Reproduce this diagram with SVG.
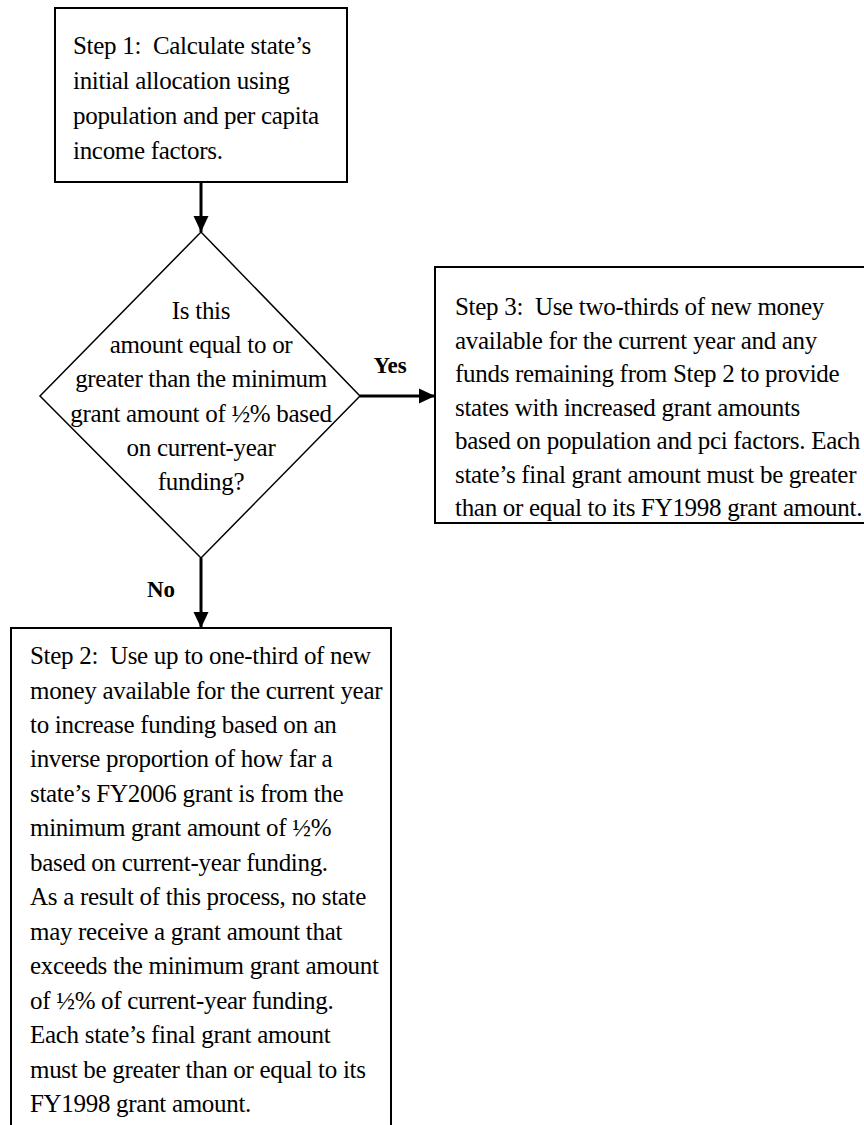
<svg xmlns="http://www.w3.org/2000/svg" width="864" height="1125" viewBox="0 0 864 1125">
<style>
.box{fill:#fff;stroke:#000;stroke-width:2}
.dia{fill:#fff;stroke:#000;stroke-width:1.5}
.t{font-family:"Liberation Serif","Times New Roman",serif;font-size:25px;letter-spacing:-0.3px;fill:#000;white-space:pre}
.c{text-anchor:middle}
.lbl{font-family:"Liberation Serif","Times New Roman",serif;font-size:23px;font-weight:bold;fill:#000}
.conn{stroke:#000;stroke-width:3;fill:none}
</style>
<defs>
<marker id="ah" markerWidth="16" markerHeight="16" viewBox="0 0 16 16" refX="16" refY="8" orient="auto" markerUnits="userSpaceOnUse">
<path d="M0,0.5 L16,8 L0,15.5 Z" fill="#000"/>
</marker>
</defs>
<rect width="864" height="1125" fill="#fff"/>
<g id="connectors">
<line class="conn" x1="201" y1="182" x2="201" y2="232" marker-end="url(#ah)"/>
<line class="conn" x1="360" y1="396" x2="435" y2="396" marker-end="url(#ah)"/>
<line class="conn" x1="201" y1="558" x2="201" y2="628" marker-end="url(#ah)"/>
<text class="lbl" x="390" y="373" text-anchor="middle">Yes</text>
<text class="lbl" x="161" y="597" text-anchor="middle">No</text>
</g>
<g id="step1">
<rect class="box" x="55" y="8" width="292" height="174"/>
<text class="t" x="73" y="54">Step 1:  Calculate state’s</text>
<text class="t" x="73" y="89">initial allocation using</text>
<text class="t" x="73" y="124">population and per capita</text>
<text class="t" x="73" y="159">income factors.</text>
</g>
<g id="decision">
<polygon class="dia" points="201,232 360,396 201,558 40,396"/>
<text class="t c" x="201" y="319">Is this</text>
<text class="t c" x="201" y="353">amount equal to or</text>
<text class="t c" x="201" y="387">greater than the minimum</text>
<text class="t c" x="201" y="422">grant amount of ½% based</text>
<text class="t c" x="201" y="456">on current-year</text>
<text class="t c" x="201" y="490">funding?</text>
</g>
<g id="step3">
<rect class="box" x="435" y="267" width="440" height="256"/>
<text class="t" x="455" y="315">Step 3:  Use two-thirds of new money</text>
<text class="t" x="455" y="348.5">available for the current year and any</text>
<text class="t" x="455" y="382">funds remaining from Step 2 to provide</text>
<text class="t" x="455" y="415.5">states with increased grant amounts</text>
<text class="t" x="455" y="449">based on population and pci factors. Each</text>
<text class="t" x="455" y="482.5">state’s final grant amount must be greater</text>
<text class="t" x="455" y="516">than or equal to its FY1998 grant amount.</text>
</g>
<g id="step2">
<rect class="box" x="11" y="628" width="380" height="520"/>
<text class="t" x="30" y="664">Step 2:  Use up to one-third of new</text>
<text class="t" x="30" y="698.5">money available for the current year</text>
<text class="t" x="30" y="733">to increase funding based on an</text>
<text class="t" x="30" y="767.4">inverse proportion of how far a</text>
<text class="t" x="30" y="801.8">state’s FY2006 grant is from the</text>
<text class="t" x="30" y="836.3">minimum grant amount of ½%</text>
<text class="t" x="30" y="870.8">based on current-year funding.</text>
<text class="t" x="30" y="905.2">As a result of this process, no state</text>
<text class="t" x="30" y="939.7">may receive a grant amount that</text>
<text class="t" x="30" y="974.1">exceeds the minimum grant amount</text>
<text class="t" x="30" y="1008.6">of ½% of current-year funding.</text>
<text class="t" x="30" y="1043">Each state’s final grant amount</text>
<text class="t" x="30" y="1077.5">must be greater than or equal to its</text>
<text class="t" x="30" y="1112">FY1998 grant amount.</text>
</g>
</svg>
